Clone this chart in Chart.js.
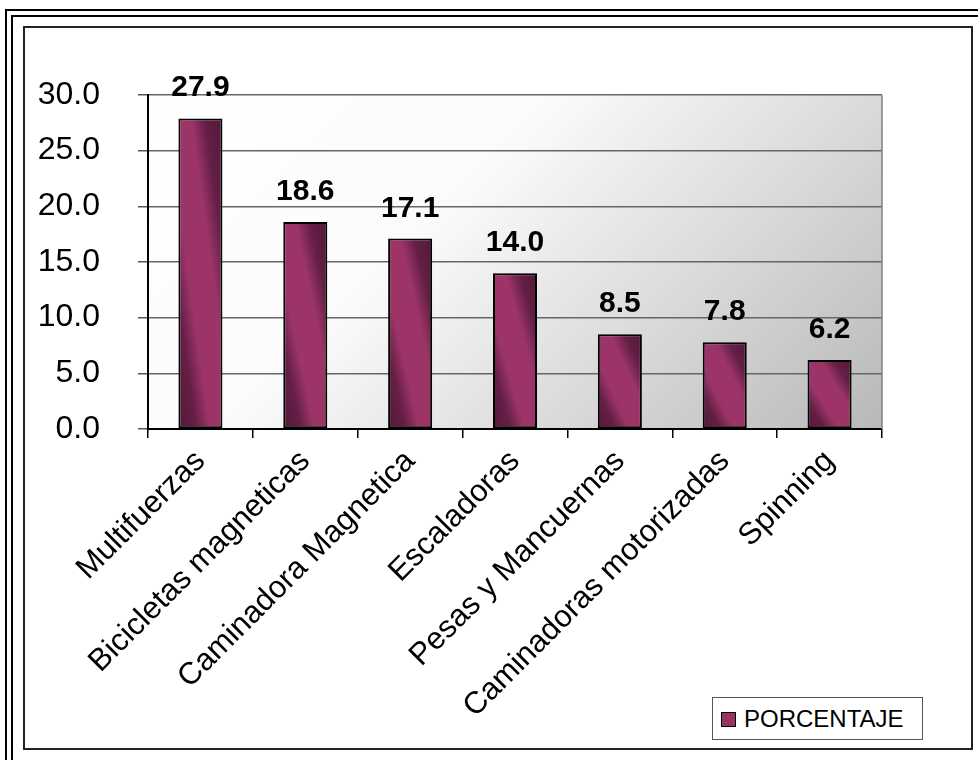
<!DOCTYPE html>
<html>
<head>
<meta charset="utf-8">
<title>Equipos</title>
<script src="https://cdn.jsdelivr.net/npm/chart.js@4.4.1/dist/chart.umd.min.js"></script>
<style>
  html, body { margin: 0; padding: 0; background: #fff; }
  body { width: 978px; height: 760px; position: relative; overflow: hidden; font-family: "Liberation Sans", Arial, sans-serif; }
  /* doble linea del marco */
  .marco { position: absolute; width: 1100px; height: 900px; border-left: 2px solid #000; border-top: 2px solid #000; }
  .m1 { left: 5px; top: 9px; }
  .m2 { left: 11px; top: 15px; }
  #chart-container { position: absolute; left: 23px; top: 26px; width: 946px; height: 720px; border: 2px solid #222; background: #fff; }
  #myChart { display: block; }
  #leyenda { position: absolute; left: 712px; top: 697px; width: 209px; height: 41px; border: 1px solid #555; background: #fff;
             font-size: 24px; line-height: 41px; color: #000; white-space: nowrap; }
  #leyenda .cuadro { display: inline-block; width: 13px; height: 13px; background: #993366; border: 1px solid #000; margin: 0 8px 0 8px; vertical-align: 0px; }
</style>
</head>
<body>
<div class="marco m1"></div>
<div class="marco m2"></div>
<div id="chart-container">
  <canvas id="myChart" width="946" height="720"></canvas>
</div>
<div id="leyenda"><span class="cuadro"></span>PORCENTAJE</div>

<script>
// datos del grafico
var categorias = ["Multifuerzas", "Bicicletas magneticas", "Caminadora Magnetica", "Escaladoras",
                  "Pesas y Mancuernas", "Caminadoras motorizadas", "Spinning"];
var porcentajes = [27.9, 18.6, 17.1, 14.0, 8.5, 7.8, 6.2];
var serie = "PORCENTAJE";
var ticksY = [0, 5, 10, 15, 20, 25, 30];

var fuente = "'Liberation Sans', Arial, sans-serif";
var anchoBarra = 0.42;

// relleno diagonal de cada barra: oscuro en las esquinas, claro en la diagonal
function rellenoBarra(context) {
    var chart = context.chart;
    var sx = chart.scales.x, sy = chart.scales.y;
    if (!sx || !sy || context.dataIndex === undefined) return "#993366";
    var w = sx.width / categorias.length * anchoBarra;
    var cx = sx.getPixelForValue(context.dataIndex);
    var top = sy.getPixelForValue(porcentajes[context.dataIndex]);
    var bottom = sy.getPixelForValue(0);
    var h = bottom - top;
    if (![w, cx, top, bottom].every(isFinite) || h <= 0 || w <= 0) return "#993366";
    var right = cx + w / 2;
    var k = 2 * w * h / (h * h + w * w);
    var g = chart.ctx.createLinearGradient(right, top, right - k * h, top + k * w);
    g.addColorStop(0, "#521839");
    g.addColorStop(0.2, "#641f45");
    g.addColorStop(0.36, "#9c3468");
    g.addColorStop(0.64, "#9c3468");
    g.addColorStop(0.8, "#641f45");
    g.addColorStop(1, "#521839");
    return g;
}

// fondo gris degradado del area de trazado
var fondoPlugin = {
    id: "fondo",
    beforeDraw: function(chart) {
        var a = chart.chartArea, ctx = chart.ctx;
        var s = (a.width + a.height) / 2;
        var g = ctx.createLinearGradient(a.left, a.top, a.left + s, a.top + s);
        g.addColorStop(0, "#ffffff");
        g.addColorStop(0.38, "#fbfbfb");
        g.addColorStop(1, "#b8b8b8");
        ctx.save();
        ctx.fillStyle = g;
        ctx.fillRect(a.left, a.top, a.width, a.height);
        ctx.restore();
    },
    afterDraw: function(chart) {
        // borde derecho del area
        var a = chart.chartArea, ctx = chart.ctx;
        ctx.save();
        ctx.strokeStyle = "#808080";
        ctx.lineWidth = 1.5;
        ctx.beginPath();
        ctx.moveTo(a.right, a.top);
        ctx.lineTo(a.right, a.bottom);
        ctx.stroke();
        ctx.restore();
    }
};

// valores encima de cada barra
var etiquetasPlugin = {
    id: "etiquetas",
    afterDatasetsDraw: function(chart) {
        var ctx = chart.ctx;
        var meta = chart.getDatasetMeta(0);
        ctx.save();
        ctx.font = "bold 30px " + fuente;
        ctx.fillStyle = "#000";
        ctx.textAlign = "center";
        ctx.textBaseline = "alphabetic";
        meta.data.forEach(function(bar, i) {
            ctx.fillText(porcentajes[i].toFixed(1), bar.x, bar.y - 22);
        });
        ctx.restore();
    }
};

var ctx = document.getElementById("myChart").getContext("2d");
var myChart = new Chart(ctx, {
    type: "bar",
    data: {
        labels: categorias,
        datasets: [{
            label: serie,
            data: porcentajes,
            backgroundColor: rellenoBarra,
            borderColor: "#000",
            borderWidth: 2,
            borderSkipped: false,
            barPercentage: anchoBarra,
            categoryPercentage: 1
        }]
    },
    options: {
        responsive: false,
        animation: false,
        layout: { padding: { top: 67, right: 89, left: 0, bottom: 0 } },
        plugins: {
            legend: { display: false },
            tooltip: { enabled: false }
        },
        scales: {
            y: {
                min: 0,
                max: 30,
                afterBuildTicks: function(scale) {
                    scale.ticks = ticksY.map(function(v) { return { value: v }; });
                },
                afterFit: function(scale) { scale.width = 123; },
                border: { color: "#000", width: 2 },
                grid: { color: "#666", lineWidth: 1.5, tickLength: 10, tickColor: "#555" },
                ticks: {
                    color: "#000",
                    padding: 38,
                    font: { family: fuente, size: 32 },
                    callback: function(v) { return Number(v).toFixed(1); }
                }
            },
            x: {
                afterFit: function(scale) { scale.height = 319; },
                border: { color: "#000", width: 2 },
                grid: { drawOnChartArea: false, tickLength: 9, color: "#000", lineWidth: 1.5 },
                ticks: {
                    color: "#000",
                    autoSkip: false,
                    minRotation: 45,
                    maxRotation: 45,
                    padding: 5,
                    font: { family: fuente, size: 31 }
                }
            }
        }
    },
    plugins: [fondoPlugin, etiquetasPlugin]
});
</script>
</body>
</html>
